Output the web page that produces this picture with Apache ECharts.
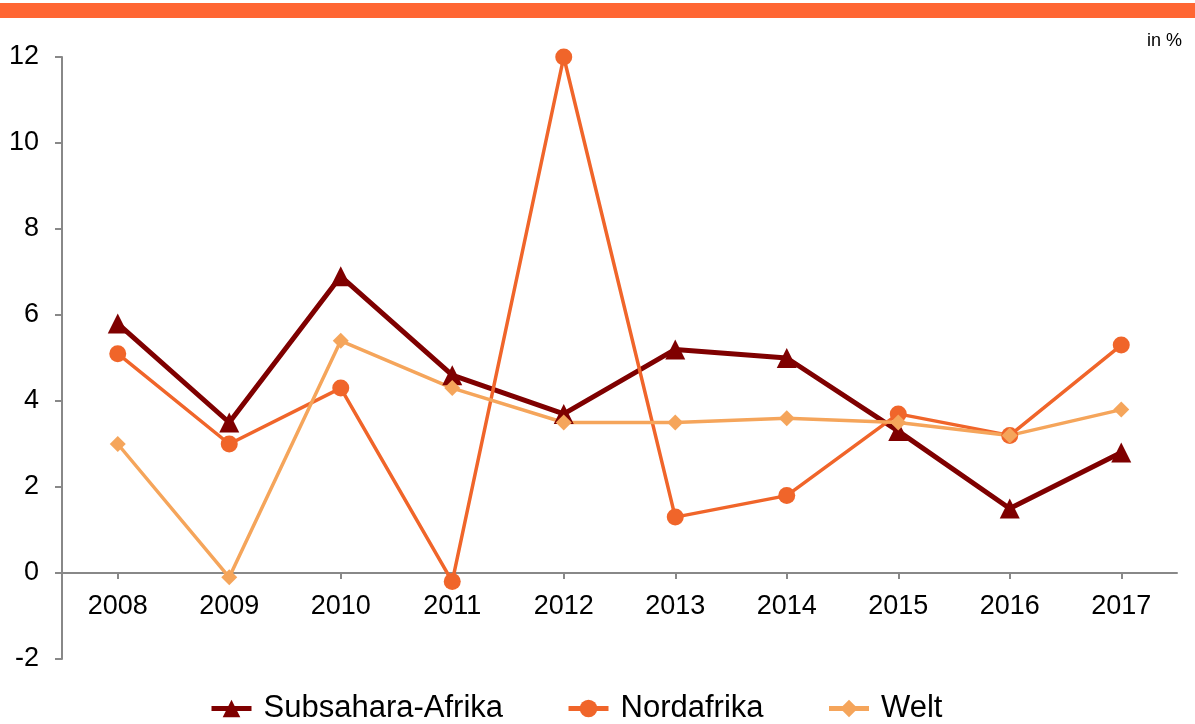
<!DOCTYPE html>
<html>
<head>
<meta charset="utf-8">
<title>Wachstum Afrika</title>
<script src="https://cdn.jsdelivr.net/npm/echarts@6/dist/echarts.min.js"></script>
<style>
  html, body { margin: 0; padding: 0; background: #fff; }
  #topbar { position: absolute; left: 0; top: 3px; width: 1195px; height: 15px; background: #ff6633; }
  #unit { position: absolute; left: 1147px; top: 30px; font: 18px "Liberation Sans", Arial, sans-serif; color: #000; z-index: 2; }
  #chart { width: 1195px; height: 724px; }
</style>
</head>
<body>
<div id="topbar"></div>
<div id="unit">in %</div>
<div id="chart"></div>
<script>
// Kategorien und Werte (in %)
const years = ['2008', '2009', '2010', '2011', '2012', '2013', '2014', '2015', '2016', '2017']
const subsahara = [5.8, 3.5, 6.9, 4.6, 3.7, 5.2, 5.0, 3.3, 1.5, 2.8]
const nordafrika = [5.1, 3.0, 4.3, -0.2, 12.0, 1.3, 1.8, 3.7, 3.2, 5.3]
const welt = [3.0, -0.1, 5.4, 4.3, 3.5, 3.5, 3.6, 3.5, 3.2, 3.8]

const font = '"Liberation Sans", Arial, sans-serif'
const axisGrey = '#888888'

const chart = echarts.init(document.getElementById('chart'))

function lineSeries(name, data, color, width, symbol, size) {
  return {
    name: name,
    type: 'line',
    data: data,
    symbol: symbol,
    symbolSize: size,
    showAllSymbol: true,
    lineStyle: { color: color, width: width },
    itemStyle: { color: color },
    emphasis: { disabled: true },
    z: 3
  }
}

chart.setOption({
  animation: false,
  grid: { left: 62, right: 18, top: 57, bottom: 65, containLabel: false },
  legend: {
    left: 204,
    top: 688,
    itemWidth: 40,
    itemHeight: 22,
    itemGap: 63,
    lineStyle: { width: 5 },
    textStyle: { fontFamily: font, fontSize: 31, color: '#000', padding: [0, 0, 0, 7] },
    data: ['Subsahara-Afrika', 'Nordafrika', 'Welt']
  },
  xAxis: {
    type: 'category',
    data: years,
    boundaryGap: true,
    position: 'bottom',
    // Achse bei 0 statt am unteren Rand (-2)
    offset: -86,
    axisLine: { onZero: false, lineStyle: { color: axisGrey, width: 2 } },
    axisTick: { show: true, alignWithLabel: true, length: 6, lineStyle: { color: axisGrey, width: 2 } },
    axisLabel: { fontFamily: font, fontSize: 27, color: '#000', margin: 20 },
    splitLine: { show: false }
  },
  yAxis: {
    type: 'value',
    min: -2,
    max: 12,
    interval: 2,
    axisLine: { show: true, lineStyle: { color: axisGrey, width: 2 } },
    axisTick: { show: true, inside: false, length: 7, lineStyle: { color: axisGrey, width: 2 } },
    axisLabel: { fontFamily: font, fontSize: 27, color: '#000', margin: 23 },
    splitLine: { show: false }
  },
  series: [
    lineSeries('Subsahara-Afrika', subsahara, '#7f0000', 5, 'triangle', 20),
    lineSeries('Nordafrika', nordafrika, '#f0652a', 3.5, 'circle', 17),
    lineSeries('Welt', welt, '#f5a55b', 3.5, 'diamond', 16)
  ]
})
</script>
</body>
</html>
